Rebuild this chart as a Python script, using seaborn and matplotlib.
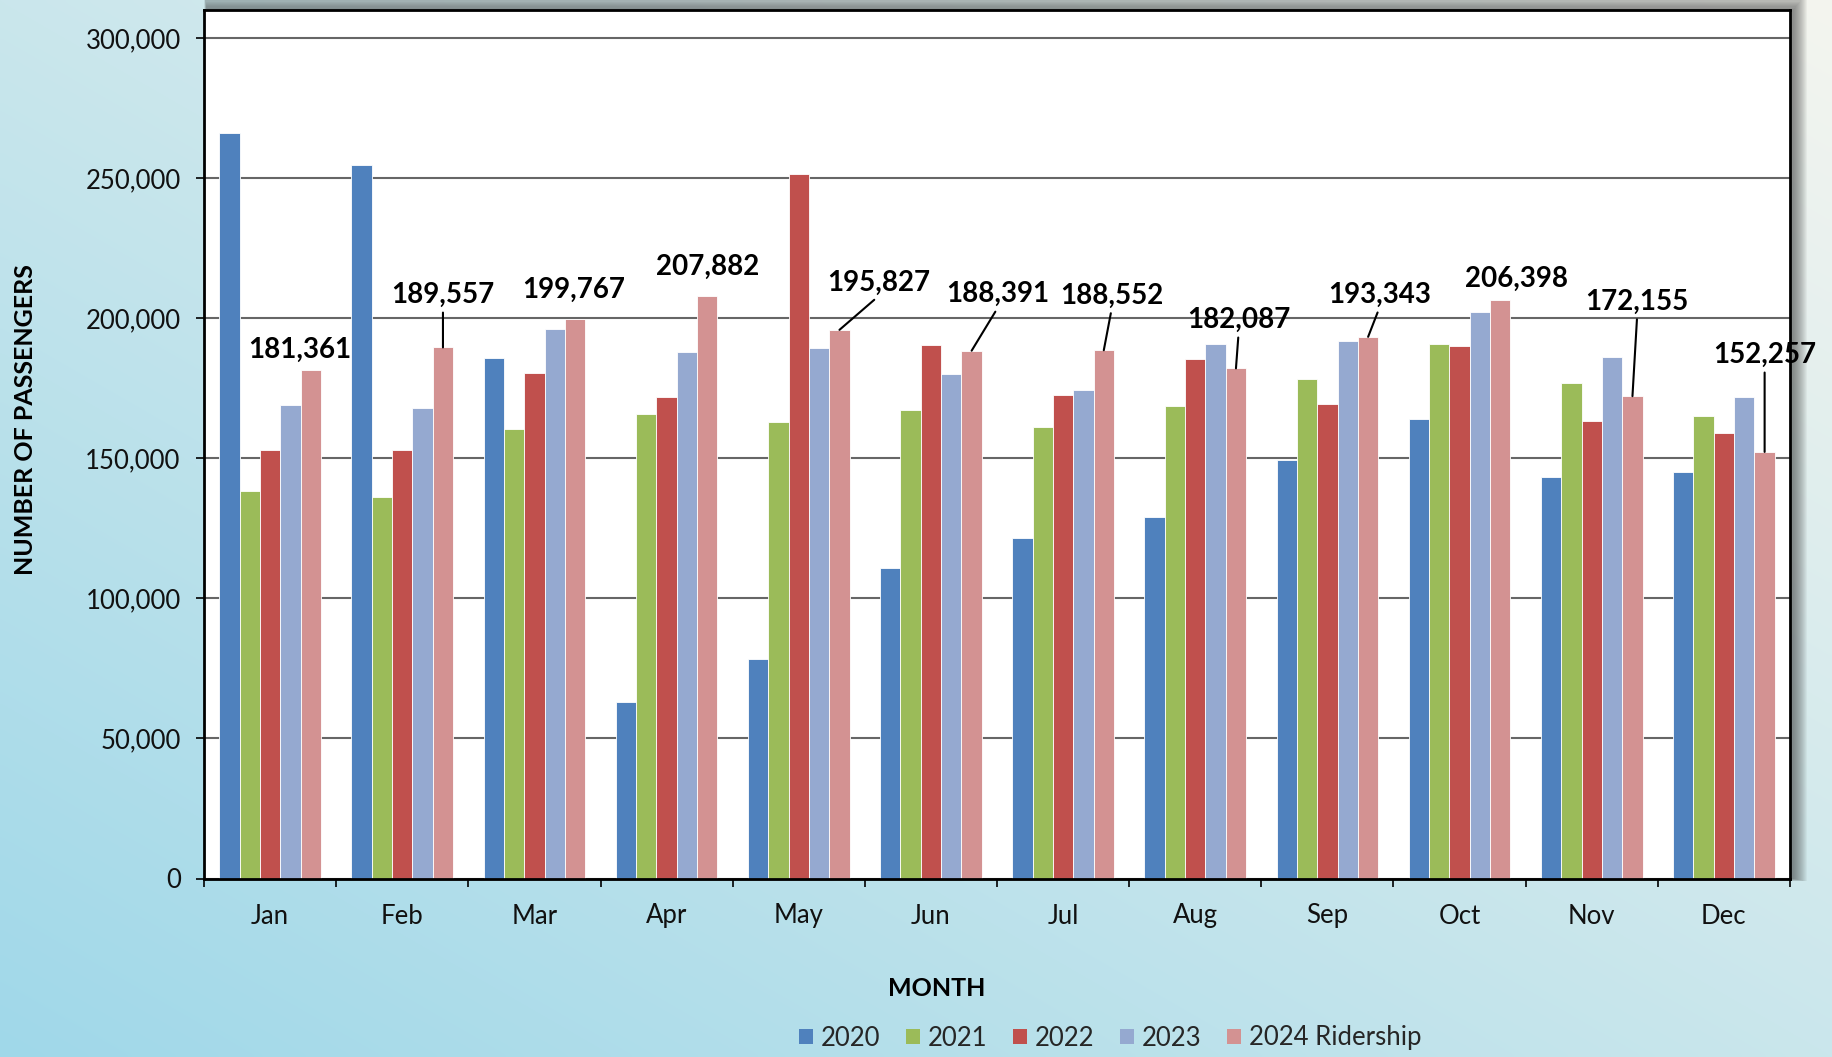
import numpy as np
import pandas as pd
import matplotlib
matplotlib.use("Agg")
import matplotlib.pyplot as plt
from matplotlib.patches import Patch, Rectangle
from matplotlib.ticker import FuncFormatter
import seaborn as sns

# ---- data -------------------------------------------------------------
months = ["Jan", "Feb", "Mar", "Apr", "May", "Jun",
          "Jul", "Aug", "Sep", "Oct", "Nov", "Dec"]
years = ["2020", "2021", "2022", "2023", "2024 Ridership"]

riders_2020 = [266200, 254500, 185900, 63100, 78200, 110900,
               121700, 129000, 149500, 164000, 143400, 145200]
riders_2021 = [138300, 136100, 160400, 165800, 163100, 167100,
               161200, 168800, 178200, 190700, 176800, 165100]
riders_2022 = [153100, 153000, 180500, 171800, 251400, 190600,
               172700, 185600, 169400, 190000, 163400, 159000]
riders_2023 = [169000, 167800, 196000, 187900, 189300, 180000,
               174400, 190800, 191900, 202100, 186000, 171800]
riders_2024 = [181361, 189557, 199767, 207882, 195827, 188391,
               188552, 182087, 193343, 206398, 172155, 152257]

year_colors = ["#4F81BD", "#9BBB59", "#C0504D", "#95A9D0", "#D39292"]

# label placement for the 2024 values: horizontal shift from the bar
# centre (in category units), label centre height, and leader line flag
label_dx = [-0.08, 0.0, -0.01, 0.0, 0.30, 0.20, 0.06, 0.02, 0.085, 0.12, 0.036, 0.0]
label_y = [188700, 208300, 210100, 218200, 212700, 208550,
           208060, 199400, 208300, 213900, 205900, 186900]
label_leader = [False, True, False, False, True, True,
                True, True, True, False, True, True]

series = [riders_2020, riders_2021, riders_2022, riders_2023, riders_2024]
df = pd.DataFrame({
    "month": np.repeat([months], len(years), axis=0).ravel(),
    "year": np.repeat(years, len(months)),
    "riders": np.concatenate(series),
})

# ---- style ------------------------------------------------------------
sns.set_style("white")
plt.rcParams["font.family"] = ["Lato", "DejaVu Sans"]

W, H = 1832, 1057
fig = plt.figure(figsize=(W / 100, H / 100), dpi=100)

# gradient backdrop
bg = fig.add_axes([0, 0, 1, 1], zorder=-10)
u = np.linspace(0, 1, 400)[None, :]
v = np.linspace(1, 0, 240)[:, None]
t = np.clip(0.5 * u + 0.5 * v, 0, 1)
c0 = np.array([160, 216, 233]) / 255.0
c1 = np.array([244, 245, 239]) / 255.0
img = c0[None, None, :] * (1 - t[..., None]) + c1[None, None, :] * t[..., None]
bg.imshow(img, aspect="auto", extent=[0, 1, 0, 1], interpolation="bicubic")
bg.set_xlim(0, 1)
bg.set_ylim(0, 1)
bg.axis("off")

# plot-area geometry (figure fractions)
left, right = 204 / W, 1790 / W
bottom, top = 1 - 878.5 / H, 1 - 10 / H

# soft drop shadow around the plot area, biased up and to the right
for k in range(14, 0, -1):
    pad = k / W
    padv = k / H
    bg.add_patch(Rectangle((left + 3 / W - pad * 0.2, bottom - padv * 0.2),
                           (right - left) + pad * 1.2, (top - bottom) + padv * 1.4,
                           facecolor="#3a3a3a", edgecolor="none",
                           alpha=0.05, zorder=1))

ax = fig.add_axes([left, bottom, right - left, top - bottom], zorder=1)
ax.set_facecolor("white")

sns.barplot(data=df, x="month", y="riders", hue="year", order=months,
            hue_order=years, palette=year_colors, width=0.77, dodge=True,
            saturation=1, linewidth=0.6, edgecolor="#ffffff", legend=False,
            errorbar=None, ax=ax)

# ---- axes -------------------------------------------------------------
ax.set_ylim(0, 310000)
ax.set_xlim(-0.5, len(months) - 0.5)
ax.set_yticks(np.arange(0, 300001, 50000))
ax.yaxis.set_major_formatter(FuncFormatter(lambda val, pos: f"{int(val):,}"))
ax.tick_params(axis="y", which="major", length=5.8, width=1.2, color="black",
               pad=11, labelsize=18.5, labelcolor="#111111", left=True)

ax.set_xticks(np.arange(-0.5, len(months), 1.0))
ax.set_xticklabels([])
ax.set_xticks(np.arange(len(months)), minor=True)
ax.set_xticklabels(months, minor=True)
ax.tick_params(axis="x", which="major", length=5.8, width=1.2, color="black",
               bottom=True, direction="out")
ax.tick_params(axis="x", which="minor", length=0, pad=18, labelsize=18.5,
               labelcolor="#111111")

ax.yaxis.grid(True, color="#666666", linewidth=1.5)
ax.xaxis.grid(False)
ax.set_axisbelow(True)
for side in ["left", "right", "top", "bottom"]:
    ax.spines[side].set_visible(True)
    ax.spines[side].set_color("black")
    ax.spines[side].set_linewidth(2)
ax.set_xlabel("")
ax.set_ylabel("")

fig.text(26 / W, 1 - 420 / H, "NUMBER OF PASSENGERS", rotation=90,
         ha="center", va="center", fontsize=18, fontweight="bold", color="black")
fig.text(937 / W, 1 - 988 / H, "MONTH", ha="center", va="center",
         fontsize=18, fontweight="bold", color="black")

# ---- 2024 value labels ------------------------------------------------
bars_2024 = ax.containers[-1]
for i, bar in enumerate(bars_2024):
    bx = bar.get_x() + bar.get_width() / 2
    by = bar.get_height()
    txt = f"{riders_2024[i]:,}"
    if label_leader[i]:
        ax.annotate(txt, xy=(bx, by), xytext=(bx + label_dx[i], label_y[i]),
                    ha="center", va="center", fontsize=20, fontweight="bold",
                    color="black", zorder=5,
                    arrowprops=dict(arrowstyle="-", color="black", lw=1.5,
                                    relpos=(0.5, 0.0), shrinkA=1, shrinkB=0))
    else:
        ax.text(bx + label_dx[i], label_y[i], txt, ha="center", va="center",
                fontsize=20, fontweight="bold", color="black", zorder=5)

# ---- legend -----------------------------------------------------------
handles = [Patch(facecolor=c, edgecolor="none", label=y)
           for c, y in zip(year_colors, years)]
fig.legend(handles=handles, loc="center", ncol=5, frameon=False,
           bbox_to_anchor=(1110 / W, 1 - 1038 / H), fontsize=18.5,
           handlelength=0.55, handleheight=0.55, handletextpad=0.3,
           columnspacing=1.0, borderaxespad=0)

fig.savefig("out.png", dpi=100)
